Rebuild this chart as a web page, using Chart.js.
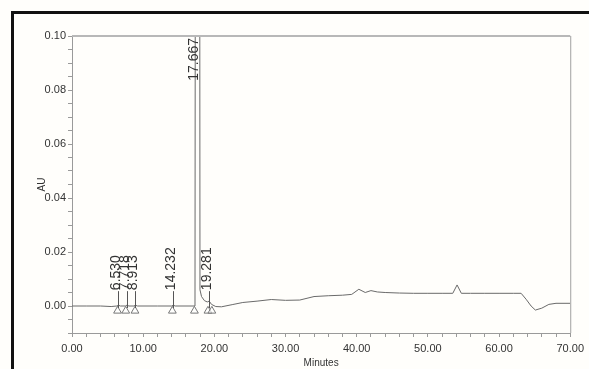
<!DOCTYPE html>
<html>
<head>
<meta charset="utf-8">
<script src="https://cdn.jsdelivr.net/npm/chart.js@4/dist/chart.umd.min.js"></script>
<style>
  html, body { margin: 0; padding: 0; background: #fffefb; }
  #wrap { position: relative; width: 589px; height: 369px; overflow: hidden; }
  canvas { position: absolute; left: 0; top: 0; }
  #frame { position: absolute; left: 11px; top: 11px; width: 700px; height: 500px;
           border-left: 3px solid #111; border-top: 3px solid #111; pointer-events: none; }
</style>
</head>
<body>
<div id="wrap">
  <canvas id="c" width="589" height="369"></canvas>
  <div id="frame"></div>
</div>
<script>
// Detector trace (minutes, AU)
const traceTimes = [0, 2, 4, 5.5, 6.3, 6.53, 6.8, 7.5, 7.72, 8.0, 8.7, 8.91, 9.2, 12, 14.0, 14.23, 14.5,
  17.0, 17.28, 17.667, 17.98, 18.2, 18.6, 19.0, 19.28, 19.6, 20.2, 21.0, 22.5, 24, 26, 28, 30, 32, 34,
  36, 38, 39.3, 40.3, 41.2, 42.0, 42.9, 44, 46, 48, 50, 52, 53.5, 54.1, 54.7, 56, 58, 60, 62, 63.1,
  63.8, 64.5, 65.1, 66, 67, 68, 70];
const traceValues = [0, 0, 0, -0.0002, 0, 0.0003, 0, 0, 0.0003, 0, 0, 0.0003, 0, 0, 0, 0.0003, 0,
  0, 0, 1.2, 0.006, 0.0035, 0.002, 0.0015, 0.0018, 0.0006, -0.0002, -0.0003, 0.0005, 0.0013, 0.0018,
  0.0024, 0.0021, 0.0022, 0.0035, 0.0038, 0.0040, 0.0043, 0.0062, 0.0050, 0.0057, 0.0052, 0.0050,
  0.0048, 0.0047, 0.0047, 0.0047, 0.0047, 0.0078, 0.0047, 0.0047, 0.0047, 0.0047, 0.0047, 0.0047,
  0.0025, 0.0000, -0.0015, -0.0008, 0.0006, 0.0010, 0.0010];

// Integration markers on the baseline
const markerTimes = [6.4, 7.55, 8.85, 14.1, 17.2, 19.1, 19.65];
const markerValues = [-0.0018, -0.0018, -0.0018, -0.0018, -0.0018, -0.0018, -0.0018];

// Retention-time labels
const peakTimes = [6.530, 7.718, 8.913, 14.232, 17.667, 19.281];
const peakLabels = ['6.530', '7.718', '8.913', '14.232', '17.667', '19.281'];

// Axis settings
const xMin = 0, xMax = 70, xStep = 2, xLabelEvery = 10;
const yMin = -0.01, yMax = 0.10, yStep = 0.005, yLabelEvery = 0.02;

const tickFont = { family: 'Liberation Sans Narrow, Liberation Sans, Arial, sans-serif', size: 11 };

const peakLabelPlugin = {
  id: 'peakLabels',
  afterDatasetsDraw(chart) {
    const { ctx, chartArea, scales } = chart;
    const x = scales.x, y = scales.y;
    ctx.save();
    // plot box top and right edges
    ctx.strokeStyle = '#b8b8b8';
    ctx.lineWidth = 2;
    ctx.beginPath();
    ctx.moveTo(chartArea.left, chartArea.top);
    ctx.lineTo(chartArea.right, chartArea.top);
    ctx.stroke();
    ctx.lineWidth = 1;
    ctx.strokeStyle = '#a0a0a0';
    ctx.beginPath();
    ctx.moveTo(chartArea.right + 0.5, chartArea.top);
    ctx.lineTo(chartArea.right + 0.5, chartArea.bottom);
    ctx.stroke();

    ctx.font = '14px "Liberation Sans", Arial, sans-serif';
    ctx.fillStyle = '#333';
    ctx.strokeStyle = '#555';
    ctx.lineWidth = 1;
    peakTimes.forEach((t, i) => {
      const px = x.getPixelForValue(t);
      const base = y.getPixelForValue(0);
      const main = y.getPixelForValue(traceValues[traceTimes.indexOf(t)]) < chartArea.top;
      ctx.save();
      ctx.textBaseline = 'middle';
      if (main) {
        // label for the off-scale peak hangs from the top of the plot
        ctx.translate(px - 4, chartArea.top + 2);
        ctx.rotate(-Math.PI / 2);
        ctx.textAlign = 'right';
        ctx.fillText(peakLabels[i], 0, 0);
      } else {
        const labelBottom = y.getPixelForValue(0.0055);
        ctx.beginPath();
        ctx.moveTo(Math.round(px) + 0.5, base + 2);
        ctx.lineTo(Math.round(px) + 0.5, labelBottom);
        ctx.stroke();
        ctx.translate(px - 2, labelBottom - 1);
        ctx.rotate(-Math.PI / 2);
        ctx.textAlign = 'left';
        ctx.fillText(peakLabels[i], 0, 0);
      }
      ctx.restore();
    });
    ctx.restore();
  }
};

new Chart(document.getElementById('c'), {
  type: 'line',
  data: {
    datasets: [
      {
        data: traceTimes.map((t, i) => ({ x: t, y: traceValues[i] })),
        borderColor: '#6a6a6a',
        borderWidth: 1,
        pointRadius: 0,
        tension: 0,
        fill: false
      },
      {
        type: 'scatter',
        data: markerTimes.map((t, i) => ({ x: t, y: markerValues[i] })),
        pointStyle: 'triangle',
        pointRadius: 4.5,
        borderColor: '#777',
        backgroundColor: 'rgba(255,255,255,0.6)',
        borderWidth: 1
      }
    ]
  },
  options: {
    responsive: false,
    animation: false,
    devicePixelRatio: 1,
    layout: { padding: { top: 36, right: 16, left: 0, bottom: 0 } },
    plugins: { legend: { display: false }, tooltip: { enabled: false } },
    scales: {
      x: {
        type: 'linear',
        min: xMin, max: xMax,
        afterFit(scale) { scale.height = 36; },
        border: { color: '#9a9a9a' },
        grid: { drawOnChartArea: false, tickLength: 4, color: '#9a9a9a' },
        ticks: {
          stepSize: xStep, autoSkip: false, maxRotation: 0, padding: 5,
          color: '#333', font: tickFont,
          callback: v => (Math.round(v) % xLabelEvery === 0 ? v.toFixed(2) : '')
        },
        title: {
          display: true, text: 'Minutes', color: '#333',
          font: { family: 'Liberation Sans, Arial, sans-serif', size: 10 },
          padding: { top: 3, bottom: 0 }
        }
      },
      y: {
        type: 'linear',
        min: yMin, max: yMax,
        afterFit(scale) { scale.width = 72; },
        border: { color: '#9a9a9a' },
        grid: { drawOnChartArea: false, tickLength: 4, color: '#9a9a9a' },
        ticks: {
          stepSize: yStep, autoSkip: false, padding: 2,
          color: '#333', font: tickFont,
          callback: v => {
            const k = Math.round(v * 1000);
            return (k >= 0 && k % Math.round(yLabelEvery * 1000) === 0) ? v.toFixed(2) : '';
          }
        },
        title: {
          display: true, text: 'AU', color: '#333',
          font: { family: 'Liberation Sans, Arial, sans-serif', size: 10 },
          padding: { top: 36, bottom: 0 }
        }
      }
    }
  },
  plugins: [peakLabelPlugin]
});
</script>
</body>
</html>
